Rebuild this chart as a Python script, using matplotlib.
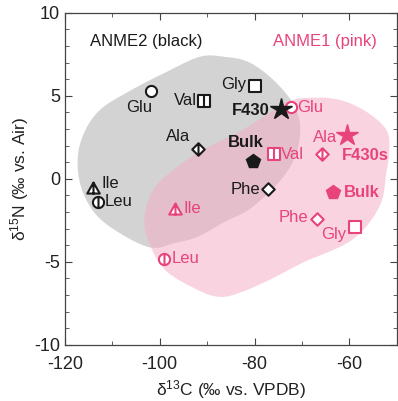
import numpy as np
import matplotlib
matplotlib.use("Agg")
import matplotlib.pyplot as plt
from matplotlib.path import Path
from matplotlib.patches import Polygon

plt.rcParams['font.family'] = ['Liberation Sans', 'DejaVu Sans']
plt.rcParams['mathtext.default'] = 'regular'
plt.rcParams['axes.unicode_minus'] = False

# amino acid data (d13C, d15N)
amino = ['Glu', 'Val', 'Gly', 'Ala', 'Phe', 'Ile', 'Leu']
anme2_c = [-101.9, -90.7, -79.9, -92.0, -77.1, -114.0, -113.0]
anme2_n = [5.3, 4.7, 5.6, 1.77, -0.62, -0.56, -1.37]
anme1_c = [-72.4, -75.8, -58.8, -65.7, -66.9, -96.8, -99.0]
anme1_n = [4.3, 1.49, -2.93, 1.5, -2.43, -1.8, -4.8]

f430_c, f430_n = -74.5, 4.2      # ANME2 F430
f430s_c, f430s_n = -60.4, 2.65   # ANME1 F430s
bulk2_c, bulk2_n = -80.4, 1.08
bulk1_c, bulk1_n = -63.5, -0.8

# outlines of shaded fields
grey_c = [-86.3, -81.0, -75.4, -71.2, -70.5, -73.3, -80.4, -86.3, -92.0, -96.8,
          -102.5, -111.6, -115.8, -117.3, -116.4, -112.8, -105.9, -98.9, -91.6]
grey_n = [7.35, 7.0, 5.78, 4.16, 2.35, 0.36, -1.69, -2.59, -3.49, -3.86,
          -4.1, -2.65, -1.08, 0.72, 2.45, 4.1, 5.36, 6.39, 7.35]
pink_c = [-73.3, -68.4, -62.1, -56.4, -52.2, -51.6, -52.2, -53.7, -59.4, -69.9,
          -76.8, -83.2, -87.4, -92.0, -98.9, -102.5, -103.2, -101.7, -98.9, -92.0, -82.5]
pink_n = [4.58, 4.88, 4.76, 4.04, 2.95, 1.75, 0.36, -1.69, -3.67, -5.06,
          -6.08, -6.87, -7.11, -6.69, -5.48, -3.67, -2.29, -0.84, 0.12, 1.57, 2.95]

PINK = '#e8437c'
BLACK = '#1a1a1a'


def smooth_closed(xs, ys, n=20):
    p = np.column_stack([xs, ys])
    m = len(p)
    out = []
    for i in range(m):
        p0, p1, p2, p3 = p[i - 1], p[i], p[(i + 1) % m], p[(i + 2) % m]
        for t in np.linspace(0, 1, n, endpoint=False):
            t2, t3 = t * t, t * t * t
            out.append(0.5 * ((2 * p1) + (-p0 + p2) * t + (2 * p0 - 5 * p1 + 4 * p2 - p3) * t2
                              + (-p0 + 3 * p1 - 3 * p2 + p3) * t3))
    return np.array(out)


def with_bar(verts):
    shape = Path(verts + [verts[0]], closed=True)
    bar = Path([(0, -1), (0, 1)], [Path.MOVETO, Path.LINETO])
    return Path.make_compound_path(shape, bar)


th = np.linspace(0, 2 * np.pi, 60, endpoint=False)
circ = [(np.cos(a), np.sin(a)) for a in th]
sq = [(-1, -1), (1, -1), (1, 1), (-1, 1)]
dia = [(0, 1), (1, 0), (0, -1), (-1, 0)]
tri = [(0, 1), (-1.05, -0.85), (1.05, -0.85)]

markers = {
    'Glu': (Path(circ + [circ[0]], closed=True), 8),
    'Val': (with_bar(sq), 8),
    'Gly': (Path(sq + [sq[0]], closed=True), 8),
    'Ala': (with_bar(dia), 9),
    'Phe': (Path(dia + [dia[0]], closed=True), 9),
    'Ile': (with_bar(tri), 9),
    'Leu': (with_bar(circ), 8),
}

# label offsets in points and alignment
lab2 = {
    'Glu': ((-8, -12), 'center', 'center'),
    'Val': ((-5, 0), 'right', 'center'),
    'Gly': ((-6, 1), 'right', 'center'),
    'Ala': ((-14, 9), 'center', 'center'),
    'Phe': ((-6, 0), 'right', 'center'),
    'Ile': ((6, 3), 'left', 'center'),
    'Leu': ((5, 0), 'left', 'center'),
}
lab1 = {
    'Glu': ((5, 0), 'left', 'center'),
    'Val': ((5, 0), 'left', 'center'),
    'Gly': ((-6, -5), 'right', 'center'),
    'Ala': ((2, 12), 'center', 'center'),
    'Phe': ((-6, 1), 'right', 'center'),
    'Ile': ((6, 0), 'left', 'center'),
    'Leu': ((5, 0), 'left', 'center'),
}

fig = plt.figure(figsize=(3.98, 4.01), dpi=100)
ax = fig.add_axes([0.163, 0.14, 0.834, 0.828])

g = smooth_closed(grey_c, grey_n)
ax.add_patch(Polygon(g, closed=True, facecolor='#d3d3d3', edgecolor='none', zorder=1))
pk = smooth_closed(pink_c, pink_n)
ax.add_patch(Polygon(pk, closed=True, facecolor='#f5abc3', edgecolor='none', alpha=0.5, zorder=2))

fs = 12
for i, aa in enumerate(amino):
    mk, ms = markers[aa]
    ax.plot(anme2_c[i], anme2_n[i], marker=mk, ms=ms, mfc='white', mec=BLACK, mew=1.5, zorder=5)
    ax.plot(anme1_c[i], anme1_n[i], marker=mk, ms=ms, mfc='white', mec=PINK, mew=1.5, zorder=5)
    off, ha, va = lab2[aa]
    ax.annotate(aa, (anme2_c[i], anme2_n[i]), xytext=off, textcoords='offset points',
                ha=ha, va=va, fontsize=fs, color=BLACK, zorder=6)
    off, ha, va = lab1[aa]
    ax.annotate(aa, (anme1_c[i], anme1_n[i]), xytext=off, textcoords='offset points',
                ha=ha, va=va, fontsize=fs, color=PINK, zorder=6)

ax.plot(f430_c, f430_n, marker='*', ms=16, color=BLACK, mec=BLACK, zorder=5)
ax.plot(f430s_c, f430s_n, marker='*', ms=16, color=PINK, mec=PINK, zorder=5)
ax.plot(bulk2_c, bulk2_n, marker='p', ms=10.5, color=BLACK, mec=BLACK, zorder=5)
ax.plot(bulk1_c, bulk1_n, marker='p', ms=10.5, color=PINK, mec=PINK, zorder=5)

ax.annotate('F430', (f430_c, f430_n), xytext=(-8, -1), textcoords='offset points',
            ha='right', va='center', fontsize=fs, fontweight='bold', color=BLACK, zorder=6)
ax.annotate('F430s', (f430s_c, f430s_n), xytext=(-4, -15), textcoords='offset points',
            ha='left', va='center', fontsize=fs, fontweight='bold', color=PINK, zorder=6)
ax.annotate('Bulk', (bulk2_c, bulk2_n), xytext=(-5, 13), textcoords='offset points',
            ha='center', va='center', fontsize=fs, fontweight='bold', color=BLACK, zorder=6)
ax.annotate('Bulk', (bulk1_c, bulk1_n), xytext=(8, 0), textcoords='offset points',
            ha='left', va='center', fontsize=fs, fontweight='bold', color=PINK, zorder=6)

ax.text(-114.7, 8.3, 'ANME2 (black)', fontsize=fs, color=BLACK, ha='left', va='center')
ax.text(-54.1, 8.3, 'ANME1 (pink)', fontsize=fs, color=PINK, ha='right', va='center')

ax.set_xlim(-120, -50)
ax.set_ylim(-10, 10)
ax.set_xticks([-120, -100, -80, -60])
ax.set_yticks([-10, -5, 0, 5, 10])
ax.set_xticks(np.arange(-110, -50, 20), minor=True)
ax.set_yticks(np.arange(-10, 11, 1), minor=True)
ax.tick_params(which='both', direction='in', top=True, right=True, color='#444',
               labelsize=13, labelcolor='#222')
ax.tick_params(which='major', length=5)
ax.tick_params(which='minor', length=3)
ax.tick_params(axis='x', pad=8)
for s in ax.spines.values():
    s.set_color('#444')
    s.set_linewidth(0.9)

ax.set_xlabel('δ$^{13}$C (‰ vs. VPDB)', fontsize=12.5, color='#222', labelpad=4)
ax.set_ylabel('δ$^{15}$N (‰ vs. Air)', fontsize=12.5, color='#222', labelpad=2)

fig.savefig('out.png', dpi=100)
